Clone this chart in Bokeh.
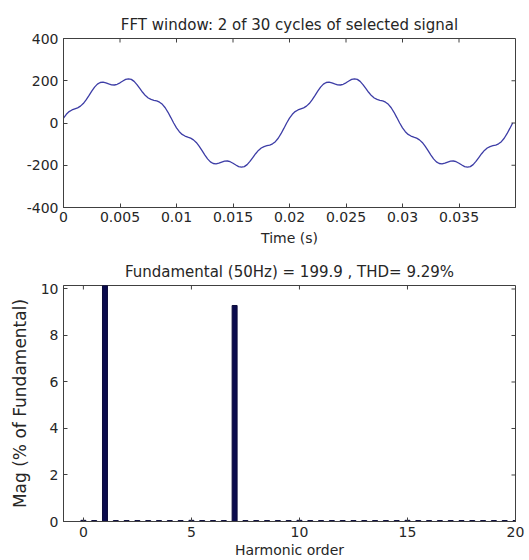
import math
from bokeh.plotting import figure
from bokeh.models import FixedTicker, Range1d
from bokeh.layouts import column
from bokeh.embed import file_html
from bokeh.resources import INLINE

# ---------------- data ----------------
title_top = "FFT window: 2 of 30 cycles of selected signal"
title_bottom = "Fundamental (50Hz) = 199.9 , THD= 9.29%"
xlabel_top = "Time (s)"
xlabel_bottom = "Harmonic order"
ylabel_bottom = "Mag (% of Fundamental)"

sample_step = 0.00025  # s
signal_v = [
    22.9, 41.2, 54.0, 61.7, 66.8, 71.8, 79.8, 92.1, 109.1, 129.5,
    150.8, 169.8, 183.9, 191.7, 193.3, 190.0, 185.0, 180.9, 179.9, 183.3,
    190.3, 198.9, 206.2, 209.3, 206.4, 197.0, 181.9, 163.7, 145.4, 129.8,
    118.4, 111.5, 107.6, 104.4, 98.7, 88.4, 72.2, 50.7, 25.7, 0.1,
    -22.9, -41.2, -54.0, -61.7, -66.8, -71.8, -79.8, -92.1, -109.1, -129.5,
    -150.8, -169.8, -183.9, -191.7, -193.3, -190.0, -185.0, -180.9, -179.9, -183.3,
    -190.3, -198.9, -206.2, -209.3, -206.4, -197.0, -181.9, -163.7, -145.4, -129.8,
    -118.4, -111.5, -107.6, -104.4, -98.7, -88.4, -72.2, -50.7, -25.7, -0.1,
    22.9, 41.2, 54.0, 61.7, 66.8, 71.8, 79.8, 92.1, 109.1, 129.5,
    150.8, 169.8, 183.9, 191.7, 193.3, 190.0, 185.0, 180.9, 179.9, 183.3,
    190.3, 198.9, 206.2, 209.3, 206.4, 197.0, 181.9, 163.7, 145.4, 129.8,
    118.4, 111.5, 107.6, 104.4, 98.7, 88.4, 72.2, 50.7, 25.7, 0.1,
    -22.9, -41.2, -54.0, -61.7, -66.8, -71.8, -79.8, -92.1, -109.1, -129.5,
    -150.8, -169.8, -183.9, -191.7, -193.3, -190.0, -185.0, -180.9, -179.9, -183.3,
    -190.3, -198.9, -206.2, -209.3, -206.4, -197.0, -181.9, -163.7, -145.4, -129.8,
    -118.4, -111.5, -107.6, -104.4, -98.7, -88.4, -72.2, -50.7, -25.7, -0.1,
]
signal_t = [i * sample_step for i in range(len(signal_v))]

time_range = (0, 0.04)
volt_range = (-400, 400)
time_ticks = [0, 0.005, 0.01, 0.015, 0.02, 0.025, 0.03, 0.035]
time_tick_labels = ["0", "0.005", "0.01", "0.015", "0.02", "0.025", "0.03", "0.035"]
volt_ticks = [-400, -200, 0, 200, 400]
volt_tick_labels = ["-400", "-200", "0", "200", "400"]

harm_order = [0, 0.5, 1, 1.5, 2, 2.5, 3, 3.5, 4, 4.5, 5, 5.5, 6, 6.5, 7, 7.5,
              8, 8.5, 9, 9.5, 10, 10.5, 11, 11.5, 12, 12.5, 13, 13.5, 14, 14.5,
              15, 15.5, 16, 16.5, 17, 17.5, 18, 18.5, 19, 19.5, 20]
harm_mag = [0.05, 0.04, 100.0, 0.04, 0.04, 0.04, 0.04, 0.04, 0.04, 0.04, 0.05, 0.04,
            0.04, 0.04, 9.29, 0.04, 0.04, 0.04, 0.04, 0.04, 0.05, 0.04, 0.04, 0.04,
            0.04, 0.04, 0.04, 0.04, 0.04, 0.04, 0.05, 0.04, 0.04, 0.04, 0.04, 0.04,
            0.04, 0.04, 0.04, 0.04, 0.04]
harm_range = (-0.92, 20)
mag_range = (0, 10.15)
harm_ticks = [0, 5, 10, 15, 20]
mag_ticks = [0, 2, 4, 6, 8, 10]

# ---------------- style ----------------
FONT = "DejaVu Sans"
TXT = "#262626"
AX = "#404040"
W = 529
H1 = 250
H2 = 560 - H1


def style_axis(ax):
    ax.major_tick_in = 4
    ax.major_tick_out = 0
    ax.minor_tick_line_color = None
    ax.axis_line_color = AX
    ax.major_tick_line_color = AX
    ax.major_label_text_font = FONT
    ax.major_label_text_color = TXT
    ax.major_label_text_font_size = "14px"
    ax.major_label_standoff = 5
    ax.axis_label_text_font = FONT
    ax.axis_label_text_color = TXT
    ax.axis_label_text_font_style = "normal"


def make_fig(height, title, xr, yr, b_top, b_bottom, b_right):
    p = figure(width=W, height=height, x_range=Range1d(*xr), y_range=Range1d(*yr),
               output_backend="svg", toolbar_location=None, tools="",
               min_border_left=63, min_border_right=b_right,
               min_border_top=b_top, min_border_bottom=b_bottom)
    p.title.text = title
    p.title.align = "center"
    p.title.text_font = FONT
    p.title.text_font_size = "15px"
    p.title.text_font_style = "normal"
    p.title.text_color = TXT
    p.xgrid.visible = False
    p.ygrid.visible = False
    p.outline_line_color = AX
    p.background_fill_color = "white"
    p.border_fill_color = "white"
    return p


def mirror_ticks(p, xticks, yticks, xr, yr):
    # inward 4-px tick marks on the top and right edges of the box (MATLAB style)
    p.ray(x=xticks, y=[yr[1]] * len(xticks), length=4, length_units="screen",
          angle=-math.pi / 2, line_color=AX, line_width=1)
    p.ray(x=[xr[1]] * len(yticks), y=yticks, length=4, length_units="screen",
          angle=math.pi, line_color=AX, line_width=1)


# ---------------- top: time signal ----------------
p1 = make_fig(H1, title_top, time_range, volt_range, 38, H1 - 207, 14)
p1.line(signal_t, signal_v, line_color="#3d3da6", line_width=1.3)
p1.xaxis.ticker = FixedTicker(ticks=time_ticks)
p1.xaxis.major_label_overrides = dict(zip(time_ticks, time_tick_labels))
p1.yaxis.ticker = FixedTicker(ticks=volt_ticks)
p1.yaxis.major_label_overrides = dict(zip(volt_ticks, volt_tick_labels))
p1.xaxis.axis_label = xlabel_top
p1.xaxis.axis_label_text_font_size = "14px"
for ax in p1.xaxis + p1.yaxis:
    style_axis(ax)
p1.xaxis.major_label_standoff = 4
p1.xaxis.axis_label_standoff = 5
mirror_ticks(p1, time_ticks, volt_ticks, time_range, volt_range)

# ---------------- bottom: harmonic spectrum ----------------
p2 = make_fig(H2, title_bottom, harm_range, mag_range, 285 - H1, 39, 9)
p2.vbar(x=harm_order, top=harm_mag, width=0.23, bottom=0,
        fill_color="#0b0b4d", line_color="#0b0b3a", line_width=1)
p2.xaxis.ticker = FixedTicker(ticks=harm_ticks)
p2.yaxis.ticker = FixedTicker(ticks=mag_ticks)
p2.xaxis.axis_label = xlabel_bottom
p2.xaxis.axis_label_text_font_size = "14px"
p2.yaxis.axis_label = ylabel_bottom
p2.yaxis.axis_label_text_font_size = "17px"
for ax in p2.xaxis + p2.yaxis:
    style_axis(ax)
p2.xaxis.major_label_standoff = 5
p2.xaxis.axis_label_standoff = 2
p2.yaxis.axis_label_standoff = 8
mirror_ticks(p2, harm_ticks, mag_ticks, harm_range, mag_range)

layout = column(p1, p2, spacing=0)
open("out.html", "w").write(file_html(layout, INLINE))
